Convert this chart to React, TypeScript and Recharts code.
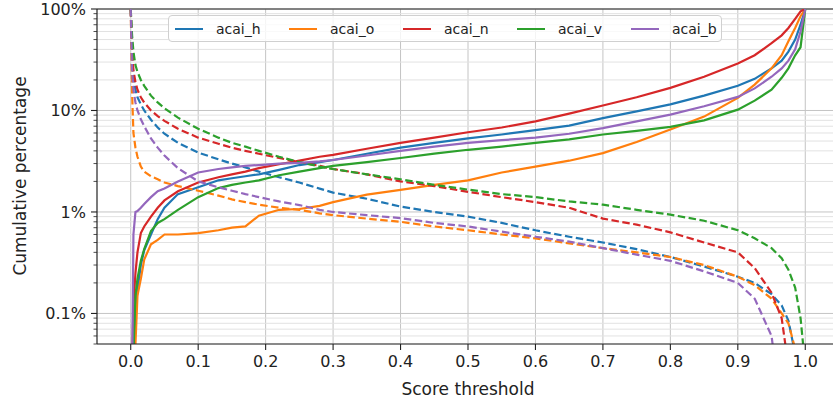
import React from "react";
import { LineChart, Line, XAxis, YAxis, ReferenceLine, Label } from "recharts";

// score thresholds shared by every curve
const thresholds = [
  0, 0.002, 0.004, 0.007, 0.01, 0.015, 0.02, 0.03, 0.04, 0.05, 0.07, 0.1, 0.13,
  0.15, 0.17, 0.19, 0.22, 0.25, 0.28, 0.3, 0.35, 0.4, 0.45, 0.5, 0.55, 0.6,
  0.65, 0.7, 0.75, 0.8, 0.85, 0.9, 0.925, 0.95, 0.965, 0.975, 0.985, 0.993, 1.0,
];

// solid: cumulative % below threshold
const hCum = [0.01, 0.01, 0.02, 0.1, 0.17, 0.3, 0.42, 0.6, 0.85, 1.1, 1.5, 1.75, 2.05, 2.15, 2.25, 2.35, 2.6, 2.9, 3.1, 3.25, 3.75, 4.3, 4.8, 5.3, 5.8, 6.4, 7.1, 8.4, 9.8, 11.5, 14, 17.5, 20.5, 26, 31, 38, 50, 70, 100];
const oCum = [0.01, 0.01, 0.01, 0.05, 0.15, 0.22, 0.34, 0.48, 0.53, 0.6, 0.6, 0.62, 0.66, 0.7, 0.72, 0.92, 1.05, 1.07, 1.15, 1.25, 1.48, 1.65, 1.85, 2.05, 2.45, 2.8, 3.2, 3.8, 4.9, 6.5, 8.7, 13.3, 18, 26, 35, 48, 65, 85, 100];
const nCum = [0.01, 0.03, 0.12, 0.25, 0.4, 0.62, 0.72, 0.9, 1.1, 1.3, 1.6, 1.95, 2.2, 2.35, 2.5, 2.7, 2.95, 3.2, 3.5, 3.65, 4.2, 4.8, 5.4, 6.1, 6.8, 7.8, 9.3, 11.2, 13.5, 16.7, 21.5, 29, 35, 46, 55, 65, 80, 95, 100];
const vCum = [0.01, 0.01, 0.04, 0.15, 0.22, 0.33, 0.43, 0.65, 0.78, 0.85, 1.05, 1.4, 1.72, 1.85, 1.95, 2.05, 2.3, 2.5, 2.7, 2.85, 3.1, 3.4, 3.75, 4.1, 4.4, 4.8, 5.2, 5.8, 6.3, 6.9, 8.0, 10.2, 12.5, 16, 21, 26, 35, 42, 100];
const bCum = [0.01, 0.02, 0.6, 1.0, 1.02, 1.1, 1.2, 1.4, 1.6, 1.7, 2.0, 2.45, 2.65, 2.75, 2.85, 2.9, 3.0, 3.05, 3.15, 3.25, 3.6, 4.0, 4.4, 4.8, 5.1, 5.4, 5.9, 6.7, 7.8, 9.1, 11, 13.6, 16.5, 21.5, 26, 31, 40, 60, 100];

// dashed: cumulative % above threshold
const hRem = [100, 35, 22, 16, 13.5, 11.5, 10, 8.1, 6.8, 5.9, 4.8, 3.85, 3.3, 3.0, 2.75, 2.5, 2.2, 1.95, 1.7, 1.55, 1.35, 1.13, 1.0, 0.9, 0.78, 0.66, 0.57, 0.5, 0.43, 0.36, 0.29, 0.23, 0.2, 0.155, 0.12, 0.085, 0.04, 0.01, 0.01];
const oRem = [100, 15, 6, 4.3, 3.5, 2.8, 2.5, 2.25, 2.1, 1.95, 1.8, 1.62, 1.45, 1.33, 1.25, 1.18, 1.1, 1.05, 0.97, 0.93, 0.86, 0.8, 0.72, 0.66, 0.6, 0.55, 0.49, 0.44, 0.4, 0.36, 0.3, 0.23, 0.19, 0.14, 0.1, 0.08, 0.045, 0.01, 0.01];
const nRem = [100, 40, 25, 19, 16, 13.5, 12, 10, 8.8, 7.9, 6.6, 5.4, 4.7, 4.3, 4.0, 3.75, 3.4, 3.1, 2.85, 2.65, 2.35, 2.0, 1.8, 1.58, 1.4, 1.25, 1.1, 0.86, 0.75, 0.63, 0.5, 0.4, 0.28, 0.16, 0.09, 0.03, 0.01, 0.01, 0.01];
const vRem = [100, 55, 38, 28, 24, 20, 17.5, 14, 12, 10.5, 8.5, 6.6, 5.4, 4.8, 4.4, 4.0, 3.5, 3.1, 2.8, 2.65, 2.35, 2.1, 1.85, 1.66, 1.5, 1.4, 1.27, 1.18, 1.05, 0.94, 0.82, 0.66, 0.55, 0.44, 0.35, 0.27, 0.18, 0.09, 0.03];
const bRem = [100, 25, 16, 12, 10, 8.2, 7, 5.3, 4.3, 3.6, 2.7, 2.0, 1.75, 1.62, 1.5, 1.4, 1.27, 1.17, 1.05, 1.0, 0.93, 0.87, 0.78, 0.72, 0.64, 0.57, 0.51, 0.44, 0.38, 0.33, 0.26, 0.2, 0.14, 0.06, 0.01, 0.01, 0.01, 0.01, 0.01];

const seriesNames = ["acai_h", "acai_o", "acai_n", "acai_v", "acai_b"];
const colors = ["#1f77b4", "#ff7f0e", "#d62728", "#2ca02c", "#9467bd"];
const cumSeries = [hCum, oCum, nCum, vCum, bCum];
const remSeries = [hRem, oRem, nRem, vRem, bRem];

const xTicks = [0, 0.1, 0.2, 0.3, 0.4, 0.5, 0.6, 0.7, 0.8, 0.9, 1.0];
const yMajor = [0.1, 1, 10, 100];
const yLabels = ["0.1%", "1%", "10%", "100%"];
const decades = [0.01, 0.1, 1, 10];
const minorSteps = [2, 3, 4, 5, 6, 7, 8, 9];

const FONT = "'DejaVu Sans', sans-serif";
const PLOT_LEFT = 97;
const INK = "#222";

const yMinor = decades
  .flatMap((d) => minorSteps.map((m) => d * m))
  .filter((v) => v >= 0.05 && v < 100);

const rows = thresholds.map((t, i) => {
  const r: Record<string, number> = { t };
  seriesNames.forEach((n, k) => {
    r[n + "_cum"] = cumSeries[k][i];
    r[n + "_rem"] = remSeries[k][i];
  });
  return r;
});

const YTick = (props: any) => {
  const { y, payload } = props;
  const idx = yMajor.findIndex((m) => Math.abs(m - payload.value) < 1e-9);
  const major = idx >= 0;
  return (
    <g>
      <line
        x1={PLOT_LEFT - (major ? 6 : 3.5)}
        x2={PLOT_LEFT}
        y1={y}
        y2={y}
        stroke={INK}
        strokeWidth={major ? 1.1 : 0.8}
      />
      {major && (
        <text
          x={PLOT_LEFT - 11}
          y={y}
          dy="0.36em"
          textAnchor="end"
          fontSize={16}
          fill={INK}
          fontFamily={FONT}
        >
          {yLabels[idx]}
        </text>
      )}
    </g>
  );
};

const YTitle = () => (
  <text
    x={20}
    y={176}
    transform="rotate(-90, 20, 176)"
    textAnchor="middle"
    dominantBaseline="central"
    fontSize={17}
    fill={INK}
    fontFamily={FONT}
  >
    Cumulative percentage
  </text>
);

export default function App() {
  return (
    <div
      style={{
        position: "absolute",
        left: 0,
        top: 0,
        width: 833,
        height: 402,
        overflow: "hidden",
        background: "#fff",
      }}
    >
      <LineChart
        width={845}
        height={402}
        data={rows}
        margin={{ top: 9, right: 6, left: 0, bottom: 0 }}
      >
        {xTicks.map((v) => (
          <ReferenceLine key={"gx" + v} x={v} stroke="#c4c4c4" strokeWidth={1} />
        ))}
        {yMinor.map((v) => (
          <ReferenceLine key={"gm" + v} y={v} stroke="#e2e2e2" strokeWidth={1} />
        ))}
        {yMajor.map((v) => (
          <ReferenceLine key={"gy" + v} y={v} stroke="#c4c4c4" strokeWidth={1} />
        ))}
        <XAxis
          dataKey="t"
          type="number"
          domain={[-0.05, 1.05]}
          ticks={xTicks}
          interval={0}
          allowDataOverflow
          height={58}
          tickFormatter={(v: number) => v.toFixed(1)}
          tick={{ fontSize: 16, fill: INK, fontFamily: FONT }}
          tickSize={6}
          tickMargin={6}
          tickLine={{ stroke: INK, strokeWidth: 1.1 }}
          axisLine={{ stroke: INK, strokeWidth: 1.2 }}
        >
          <Label
            value="Score threshold"
            position="insideBottom"
            offset={7}
            style={{ fontSize: 17, fill: INK, fontFamily: FONT }}
          />
        </XAxis>
        <YAxis
          scale="log"
          type="number"
          domain={[0.05, 100]}
          ticks={[...yMinor, ...yMajor].sort((a, b) => a - b)}
          interval={0}
          allowDataOverflow
          width={97}
          tick={<YTick />}
          tickLine={false}
          axisLine={{ stroke: INK, strokeWidth: 1.2 }}
        >
          <Label content={<YTitle />} />
        </YAxis>
        <ReferenceLine y={100} stroke={INK} strokeWidth={1.2} />
        {seriesNames.map((n, k) => [
          <Line
            key={n + "_cum"}
            dataKey={n + "_cum"}
            type="linear"
            stroke={colors[k]}
            strokeWidth={2.2}
            dot={false}
            isAnimationActive={false}
          />,
          <Line
            key={n + "_rem"}
            dataKey={n + "_rem"}
            type="linear"
            stroke={colors[k]}
            strokeWidth={2.2}
            strokeDasharray="7.5 3.5"
            dot={false}
            isAnimationActive={false}
          />,
        ])}
      </LineChart>
      <div
        style={{
          position: "absolute",
          left: 168,
          top: 15,
          width: 554,
          height: 27,
          boxSizing: "border-box",
          border: "1px solid #d0d0d0",
          borderRadius: 4,
          background: "rgba(255,255,255,0.8)",
          fontFamily: FONT,
          fontSize: 14,
          color: INK,
        }}
      >
        {seriesNames.map((n, k) => (
          <div
            key={n}
            style={{
              position: "absolute",
              left: 6 + k * 114,
              top: 0,
              height: 25,
              display: "flex",
              alignItems: "center",
              whiteSpace: "nowrap",
            }}
          >
            <span
              style={{
                display: "inline-block",
                width: 28,
                height: 2,
                background: colors[k],
                marginRight: 13,
              }}
            />
            {n}
          </div>
        ))}
      </div>
    </div>
  );
}
